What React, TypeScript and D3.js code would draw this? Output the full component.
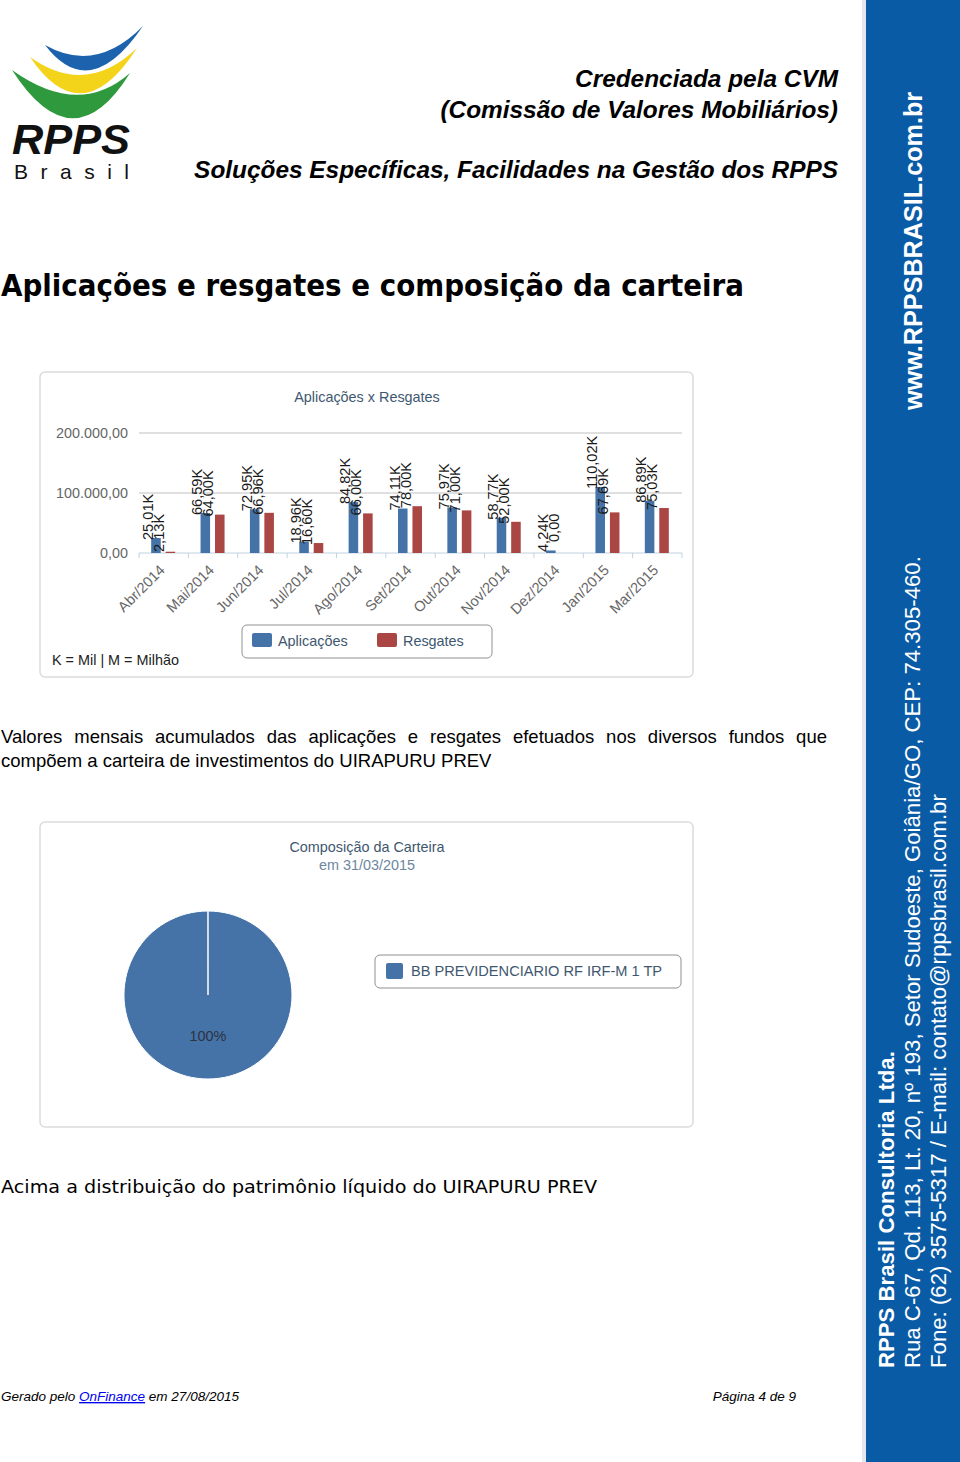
import React, { useEffect, useRef } from 'react';
import * as d3 from 'd3';

const categories = ['Abr/2014', 'Mai/2014', 'Jun/2014', 'Jul/2014', 'Ago/2014', 'Set/2014', 'Out/2014', 'Nov/2014', 'Dez/2014', 'Jan/2015', 'Mar/2015'];
const aplicacoes = [25010, 66590, 72950, 18960, 84820, 74110, 75970, 58770, 4240, 110020, 86890];
const resgates = [2130, 64000, 66960, 16600, 66000, 78000, 71000, 52000, 0, 67690, 75030];
const seriesNames = ['Aplicações', 'Resgates'];
const yTicks = [0, 100000, 200000];

const fundNames = ['BB PREVIDENCIARIO RF IRF-M 1 TP'];
const fundShares = [100];

const sideLines = [
  'RPPS Brasil Consultoria Ltda.',
  'Rua C-67, Qd. 113, Lt. 20, nº 193, Setor Sudoeste, Goiânia/GO, CEP: 74.305-460.',
  'Fone: (62) 3575-5317 / E-mail: contato@rppsbrasil.com.br',
];

const App = () => {
  const ref = useRef<SVGSVGElement>(null);

  useEffect(() => {
    const svg = d3.select(ref.current);
    svg.selectAll('*').remove();

    const colors = ['#4572A7', '#AA4643'];
    const sans = '"Liberation Sans", Arial, sans-serif';
    const br = d3.formatLocale({ decimal: ',', thousands: '.', grouping: [3], currency: ['R$', ''] });
    const fmtAxis = br.format(',.2f');
    const fmtK = (v: number) => (v === 0 ? '0,00' : br.format('.2f')(v / 1000) + 'K');

    // ---- logo
    const logo = svg.append('g');
    const swooshes = [
      { c: '#1c62ad', d: 'M45,45 Q90,104 143,26 Q96,74 45,45 Z' },
      { c: '#f4d31b', d: 'M30,57 Q82,134 137,48 Q86,97 30,57 Z' },
      { c: '#2f9a3d', d: 'M12,70 Q73,165 130,73 Q79,118 12,70 Z' },
    ];
    logo.selectAll('path').data(swooshes).enter().append('path')
      .attr('d', d => d.d).attr('fill', d => d.c);
    logo.append('text').attr('x', 12).attr('y', 154).text('RPPS')
      .attr('font-family', sans).attr('font-style', 'italic').attr('font-weight', 'bold').attr('font-size', 43)
      .attr('textLength', 118).attr('lengthAdjust', 'spacingAndGlyphs').attr('fill', '#111');
    logo.append('text').attr('x', 14).attr('y', 179).text('Brasil')
      .attr('font-family', sans).attr('font-size', 21).attr('letter-spacing', 12.5).attr('fill', '#111');

    // ---- header
    const head = [
      { t: 'Credenciada pela CVM', y: 87 },
      { t: '(Comissão de Valores Mobiliários)', y: 118 },
      { t: 'Soluções Específicas, Facilidades na Gestão dos RPPS', y: 178 },
    ];
    svg.selectAll('text.head').data(head).enter().append('text').attr('class', 'head')
      .attr('x', 838).attr('y', d => d.y).attr('text-anchor', 'end')
      .attr('font-family', sans).attr('font-weight', 'bold').attr('font-style', 'italic')
      .attr('font-size', 24.4).attr('fill', '#000').text(d => d.t);

    svg.append('text').attr('x', 1).attr('y', 296)
      .attr('font-family', '"DejaVu Sans Condensed", "DejaVu Sans", sans-serif').attr('font-weight', 'bold')
      .attr('font-size', 30).attr('textLength', 743).attr('lengthAdjust', 'spacingAndGlyphs')
      .attr('fill', '#000').text('Aplicações e resgates e composição da carteira');

    // ---- chart boxes
    [[40, 372, 653, 305], [40, 822, 653, 305]].forEach(([x, y, w, h]) => {
      svg.append('rect').attr('x', x).attr('y', y).attr('width', w).attr('height', h)
        .attr('rx', 5).attr('fill', '#fff').attr('stroke', '#dcdcdc').attr('stroke-width', 1.5);
    });

    // ---- bar chart
    const x = d3.scaleBand<string>().domain(categories).range([139, 682]);
    const y = d3.scaleLinear().domain([0, 200000]).range([553, 433]);
    const x1 = d3.scaleBand<number>().domain([0, 1]).range([-12.5, 11.5]).paddingInner(0.34);

    svg.append('text').attr('x', 367).attr('y', 402).attr('text-anchor', 'middle')
      .attr('font-family', sans).attr('font-size', 14.4).attr('fill', '#3E576F').text('Aplicações x Resgates');

    const grid = svg.append('g');
    grid.selectAll('line').data(yTicks).enter().append('line')
      .attr('x1', 139).attr('x2', 682).attr('y1', d => y(d)).attr('y2', d => y(d))
      .attr('stroke', d => (d === 0 ? '#C0D0E0' : '#C0C0C0')).attr('stroke-width', 1);
    grid.selectAll('text').data(yTicks).enter().append('text')
      .attr('x', 128).attr('y', d => y(d) + 5).attr('text-anchor', 'end')
      .attr('font-family', sans).attr('font-size', 14.4).attr('fill', '#666').text(d => fmtAxis(d));

    const tickPos = categories.map(c => x(c) as number).concat([682]);
    svg.append('g').selectAll('line').data(tickPos).enter().append('line')
      .attr('x1', d => d).attr('x2', d => d).attr('y1', 553).attr('y2', 558)
      .attr('stroke', '#C0D0E0');

    svg.append('g').selectAll('text').data(categories).enter().append('text')
      .attr('transform', d => `translate(${(x(d) as number) + x.bandwidth() / 2 + 2},${571}) rotate(-45)`)
      .attr('text-anchor', 'end').attr('font-family', sans).attr('font-size', 14.6).attr('fill', '#666')
      .text(d => d);

    const series = [aplicacoes, resgates];
    const labelShift = [-16, -5];
    series.forEach((vals, s) => {
      const g = svg.append('g');
      g.selectAll('rect').data(vals).enter().append('rect')
        .attr('x', (d, i) => (x(categories[i]) as number) + x.bandwidth() / 2 + (x1(s) as number))
        .attr('width', x1.bandwidth())
        .attr('y', d => y(d)).attr('height', d => y(0) - y(d))
        .attr('fill', colors[s]);
      g.selectAll('text').data(vals).enter().append('text')
        .attr('transform', (d, i) => {
          const cx = (x(categories[i]) as number) + x.bandwidth() / 2 + labelShift[s];
          const cy = d === 0 ? y(0) - 11 : Math.min(y(d) + 2, y(0) - 1);
          return `translate(${cx},${cy}) rotate(-90)`;
        })
        .attr('dy', '0.35em').attr('font-family', sans).attr('font-size', 14.6).attr('fill', '#1a1a1a')
        .text(d => fmtK(d));
    });

    // legend
    const leg = svg.append('g');
    leg.append('rect').attr('x', 242).attr('y', 625).attr('width', 250).attr('height', 33)
      .attr('rx', 5).attr('fill', '#fff').attr('stroke', '#909090');
    const legX = [252, 377];
    seriesNames.forEach((n, i) => {
      leg.append('rect').attr('x', legX[i]).attr('y', 633).attr('width', 20).attr('height', 14)
        .attr('rx', 2).attr('fill', colors[i]);
      leg.append('text').attr('x', legX[i] + 26).attr('y', 646).attr('font-family', sans)
        .attr('font-size', 14.4).attr('fill', '#3E576F').text(n);
    });

    svg.append('text').attr('x', 52).attr('y', 665).attr('font-family', sans).attr('font-size', 14.4)
      .attr('fill', '#222').text('K = Mil | M = Milhão');

    // ---- paragraphs
    const p1 = svg.append('text').attr('x', 1).attr('y', 743).attr('font-family', sans).attr('font-size', 18.5)
      .attr('fill', '#000')
      .text('Valores mensais acumulados das aplicações e resgates efetuados nos diversos fundos que');
    const p1node = p1.node() as SVGTextElement;
    const natural = p1node.getComputedTextLength();
    const gaps = p1.text().split(' ').length - 1;
    p1.attr('word-spacing', Math.max(0, (826 - natural) / gaps));
    svg.append('text').attr('x', 1).attr('y', 767).attr('font-family', sans).attr('font-size', 18.5)
      .attr('fill', '#000').text('compõem a carteira de investimentos do UIRAPURU PREV');

    // ---- pie chart
    svg.append('text').attr('x', 367).attr('y', 852).attr('text-anchor', 'middle')
      .attr('font-family', sans).attr('font-size', 14.4).attr('fill', '#3E576F').text('Composição da Carteira');
    svg.append('text').attr('x', 367).attr('y', 870).attr('text-anchor', 'middle')
      .attr('font-family', sans).attr('font-size', 14.4).attr('fill', '#6D869F').text('em 31/03/2015');

    const pie = d3.pie<number>().sort(null).endAngle(2 * Math.PI - 0.0005).value(d => d);
    const arc = d3.arc<d3.PieArcDatum<number>>().innerRadius(0).outerRadius(84);
    const pg = svg.append('g').attr('transform', 'translate(208,995)');
    const arcs = pie(fundShares);
    pg.selectAll('path').data(arcs).enter().append('path')
      .attr('d', arc).attr('fill', colors[0]).attr('stroke', '#fff').attr('stroke-width', 1);
    pg.selectAll('text').data(arcs).enter().append('text')
      .attr('x', 0).attr('y', 46).attr('text-anchor', 'middle')
      .attr('font-family', sans).attr('font-size', 14.4).attr('fill', '#2b3340')
      .text(d => d.data + '%');

    const pl = svg.append('g');
    pl.append('rect').attr('x', 375).attr('y', 955).attr('width', 306).attr('height', 33)
      .attr('rx', 5).attr('fill', '#fff').attr('stroke', '#909090');
    fundNames.forEach((n, i) => {
      pl.append('rect').attr('x', 386).attr('y', 963 + i * 20).attr('width', 17).attr('height', 16)
        .attr('rx', 2).attr('fill', colors[0]);
      pl.append('text').attr('x', 411).attr('y', 976 + i * 20).attr('font-family', sans)
        .attr('font-size', 14.6).attr('fill', '#3E576F').text(n);
    });

    svg.append('text').attr('x', 1).attr('y', 1193)
      .attr('font-family', '"DejaVu Sans", sans-serif').attr('font-size', 18)
      .attr('textLength', 596).attr('lengthAdjust', 'spacingAndGlyphs').attr('fill', '#000')
      .text('Acima a distribuição do patrimônio líquido do UIRAPURU PREV');

    // ---- footer
    const foot = svg.append('text').attr('x', 1).attr('y', 1401).attr('font-family', sans)
      .attr('font-size', 13.5).attr('font-style', 'italic').attr('fill', '#000');
    foot.append('tspan').text('Gerado pelo ');
    foot.append('tspan').attr('fill', '#0000ee').attr('text-decoration', 'underline').text('OnFinance');
    foot.append('tspan').text(' em 27/08/2015');
    svg.append('text').attr('x', 796).attr('y', 1401).attr('text-anchor', 'end').attr('font-family', sans)
      .attr('font-size', 13.5).attr('font-style', 'italic').attr('fill', '#000').text('Página 4 de 9');

    // ---- side band
    svg.append('rect').attr('x', 862).attr('y', 0).attr('width', 4).attr('height', 1462).attr('fill', '#e4e8ee');
    svg.append('rect').attr('x', 866).attr('y', 0).attr('width', 94).attr('height', 1462).attr('fill', '#0a5ba6');
    svg.append('text').attr('transform', 'translate(922,410) rotate(-90)')
      .attr('font-family', sans).attr('font-weight', 'bold').attr('font-size', 25.2).attr('fill', '#fff')
      .text('www.RPPSBRASIL.com.br');
    sideLines.forEach((t, i) => {
      svg.append('text').attr('transform', `translate(${894 + i * 26},1368) rotate(-90)`)
        .attr('font-family', sans).attr('font-weight', i === 0 ? 'bold' : 'normal')
        .attr('font-size', 22.2).attr('fill', '#fff').text(t);
    });
  }, []);

  return (
    <div style={{ position: 'absolute', left: 0, top: 0 }}>
      <svg ref={ref} width={960} height={1462} style={{ display: 'block', background: '#fff' }} />
    </div>
  );
};

export default App;
